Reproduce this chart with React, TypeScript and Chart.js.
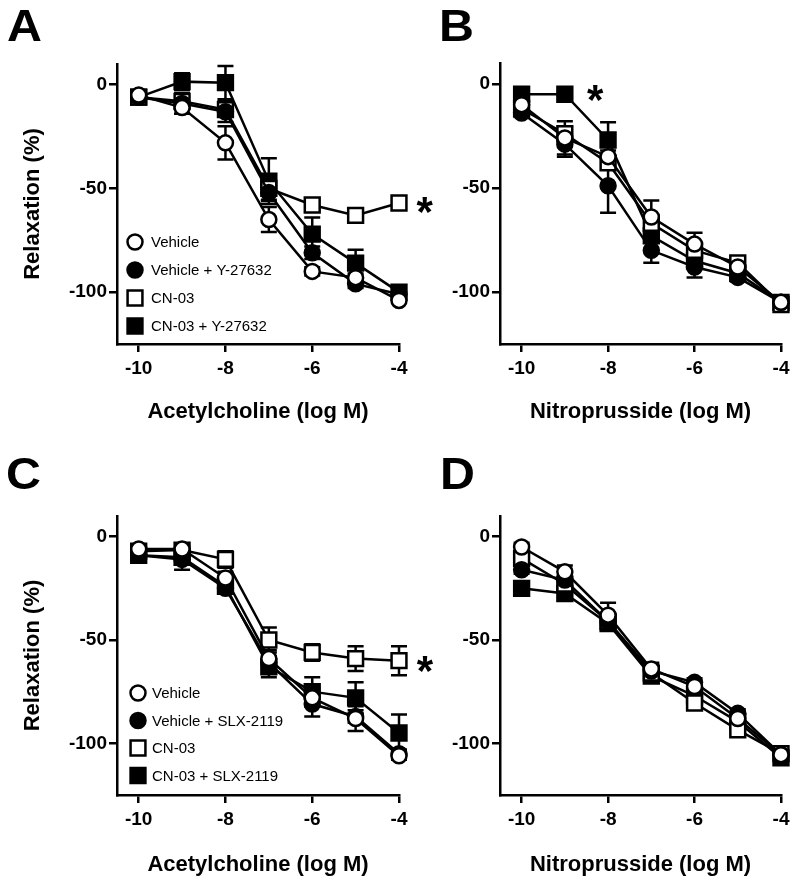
import React, { useEffect, useRef } from "react";
import { Chart, registerables } from "chart.js";

Chart.register(...registerables);

const FONT = "'Liberation Sans', Arial, Helvetica, sans-serif";

// ---------- data ----------
const doses = [-10, -9, -8, -7, -6, -5, -4];
const xTickValues = [-10, -8, -6, -4];
const yTickValues = [0, -50, -100];

const labelsY27632 = ["Vehicle", "Vehicle + Y-27632", "CN-03", "CN-03 + Y-27632"];
const labelsSLX2119 = ["Vehicle", "Vehicle + SLX-2119", "CN-03", "CN-03 + SLX-2119"];

// Panel A – Acetylcholine, Y-27632
const aVehicle = [-5, -11, -28, -65, -90, -93, -104];
const aVehicleY = [-6, -9, -13, -52, -81, -96, -101];
const aCN03 = [-6, -8, -12, -50, -58, -63, -57];
const aCN03Y = [-6, 1.5, 1, -46.5, -72, -86, -100];
const aVehicleErr = [1, 3, 8, 6, 2, 2, 1];
const aVehicleYErr = [1, 5, 5, 4, 3, 2, 1];
const aCN03Err = [1, 2, 2, 5.5, 2, 2, 2];
const aCN03YErr = [1, 4, 8, 11, 8, 6.5, 1];

// Panel B – Nitroprusside, Y-27632
const bVehicle = [-10, -26, -35, -64, -77, -88, -105];
const bVehicleY = [-14, -29, -49, -80, -88, -93, -105];
const bCN03 = [-12, -24, -38, -67, -80, -86, -106];
const bCN03Y = [-5, -5, -27, -73, -85, -91, -105];
const bVehicleErr = [2, 8, 3, 8, 5.5, 2, 1];
const bVehicleYErr = [2, 6, 13, 6, 5, 2, 1];
const bCN03Err = [2, 3, 3, 3, 3, 3, 2];
const bCN03YErr = [2, 1, 8.5, 3, 3, 2, 2];

// Panel C – Acetylcholine, SLX-2119
const cVehicle = [-6, -6, -20, -59, -78, -88, -106];
const cVehicleS = [-9, -11, -25, -61, -81, -87, -105];
const cCN03 = [-7, -6.5, -11, -50, -56, -59, -60];
const cCN03S = [-9, -10, -24, -63, -75, -78, -95];
const cVehicleErr = [1, 2, 3, 4, 4, 6, 2];
const cVehicleSErr = [1, 5, 2, 3, 6, 3, 2];
const cCN03Err = [1, 2, 4, 6, 4, 6, 7];
const cCN03SErr = [1, 3, 2, 5, 7, 7.5, 9];

// Panel D – Nitroprusside, SLX-2119
const dVehicle = [-5, -17, -38, -64, -72.5, -88, -105.5];
const dVehicleS = [-16, -21, -41, -65, -70.5, -85.5, -105.5];
const dCN03 = [-10.5, -23, -41, -66, -80.5, -93.5, -105];
const dCN03S = [-25, -27.5, -42, -67.5, -77, -89.5, -107];
const dVehicleErr = [2, 3, 6, 3, 2, 2, 1];
const dVehicleSErr = [2, 2, 3, 3, 2, 2, 1];
const dCN03Err = [2, 2, 3, 3, 2, 2, 1];
const dCN03SErr = [2, 2, 3, 3, 2, 2, 1];

// significance markers (x in log M, y in %)
const starsA = [{ x: -3.41, y: -58 }];
const starsB = [{ x: -8.3, y: -4.6 }];
const starsC = [{ x: -3.4, y: -61.4 }];
const starsD: { x: number; y: number }[] = [];

// ---------- styles ----------
const markerStyles = ["circle", "circle", "rect", "rect"];
const markerFills = ["#ffffff", "#000000", "#ffffff", "#000000"];
const markerRadii = [7.5, 7.5, 10.5, 10.5];

function buildDatasets(labels: string[], values: number[][], errors: number[][]) {
  return labels.map((label, i) => ({
    label,
    data: doses.map((d, j) => ({ x: d, y: values[i][j] })),
    errors: errors[i],
    borderColor: "#000000",
    borderWidth: 2.5,
    pointStyle: markerStyles[i],
    pointRadius: markerRadii[i],
    pointHoverRadius: markerRadii[i],
    pointBorderWidth: 2.5,
    pointBackgroundColor: markerFills[i],
    pointBorderColor: "#000000",
    tension: 0,
    fill: false,
    clip: false,
  }));
}

// ---------- plugins ----------
const errorBarPlugin = {
  id: "errorBars",
  beforeDatasetsDraw(chart: any) {
    const { ctx } = chart;
    const xs = chart.scales.x;
    const ys = chart.scales.y;
    ctx.save();
    ctx.strokeStyle = "#000";
    ctx.lineWidth = 2.5;
    chart.data.datasets.forEach((ds: any) => {
      const errs = ds.errors || [];
      ds.data.forEach((pt: any, i: number) => {
        const e = errs[i];
        if (!e) return;
        const px = xs.getPixelForValue(pt.x);
        const pt1 = ys.getPixelForValue(pt.y + e);
        const pt2 = ys.getPixelForValue(pt.y - e);
        const cap = 8;
        ctx.beginPath();
        ctx.moveTo(px, pt1);
        ctx.lineTo(px, pt2);
        ctx.moveTo(px - cap, pt1);
        ctx.lineTo(px + cap, pt1);
        ctx.moveTo(px - cap, pt2);
        ctx.lineTo(px + cap, pt2);
        ctx.stroke();
      });
    });
    ctx.restore();
  },
};

const starPlugin = {
  id: "stars",
  afterDatasetsDraw(chart: any, _args: any, opts: any) {
    const pts = (opts && opts.points) || [];
    if (!pts.length) return;
    const { ctx } = chart;
    const xs = chart.scales.x;
    const ys = chart.scales.y;
    ctx.save();
    ctx.fillStyle = "#000";
    ctx.font = `bold 42px ${FONT}`;
    ctx.textAlign = "center";
    ctx.textBaseline = "alphabetic";
    const m = ctx.measureText("*");
    const asc = m.actualBoundingBoxAscent;
    const desc = m.actualBoundingBoxDescent;
    pts.forEach((p: any) => {
      const px = xs.getPixelForValue(p.x);
      const py = ys.getPixelForValue(p.y);
      ctx.fillText("*", px, py + (asc - desc) / 2);
    });
    ctx.restore();
  },
};

const insideLegendPlugin = {
  id: "insideLegend",
  afterDraw(chart: any, _args: any, opts: any) {
    if (!opts || !opts.display) return;
    const { ctx, chartArea } = chart;
    ctx.save();
    ctx.font = `15px ${FONT}`;
    ctx.textBaseline = "middle";
    ctx.textAlign = "left";
    chart.data.datasets.forEach((ds: any, i: number) => {
      const y = chartArea.top + opts.top + i * opts.spacing;
      const x = chartArea.left + opts.markerX;
      ctx.lineWidth = 2.5;
      ctx.strokeStyle = "#000";
      ctx.fillStyle = ds.pointBackgroundColor;
      ctx.beginPath();
      if (ds.pointStyle === "rect") {
        const h = ds.pointRadius * Math.SQRT1_2;
        ctx.rect(x - h, y - h, 2 * h, 2 * h);
      } else {
        ctx.arc(x, y, ds.pointRadius, 0, Math.PI * 2);
      }
      ctx.fill();
      ctx.stroke();
      ctx.fillStyle = "#000";
      ctx.fillText(ds.label, chartArea.left + opts.textX, y + 1);
    });
    ctx.restore();
  },
};

// ---------- panels ----------
type PanelCfg = {
  left: number; top: number; w: number; h: number;
  L: number; T: number; R: number; B: number;
  xTitle: string; yTitle: string | null;
  xTitlePad: number;
  labels: string[]; values: number[][]; errors: number[][];
  stars: { x: number; y: number }[];
  legend: any;
};

const panels: PanelCfg[] = [
  {
    left: 0, top: 0, w: 445, h: 443, L: 117, T: 64, R: 399, B: 344,
    xTitle: "Acetylcholine (log M)", yTitle: "Relaxation (%)", xTitlePad: 18,
    labels: labelsY27632,
    values: [aVehicle, aVehicleY, aCN03, aCN03Y],
    errors: [aVehicleErr, aVehicleYErr, aCN03Err, aCN03YErr],
    stars: starsA,
    legend: { display: true, markerX: 18, textX: 34, top: 178, spacing: 28 },
  },
  {
    left: 440, top: 0, w: 360, h: 443, L: 500, T: 63, R: 781, B: 344,
    xTitle: "Nitroprusside (log M)", yTitle: null, xTitlePad: 18,
    labels: labelsY27632,
    values: [bVehicle, bVehicleY, bCN03, bCN03Y],
    errors: [bVehicleErr, bVehicleYErr, bCN03Err, bCN03YErr],
    stars: starsB,
    legend: { display: false },
  },
  {
    left: 0, top: 443, w: 445, h: 443, L: 117, T: 516, R: 399, B: 795,
    xTitle: "Acetylcholine (log M)", yTitle: "Relaxation (%)", xTitlePad: 8,
    labels: labelsSLX2119,
    values: [cVehicle, cVehicleS, cCN03, cCN03S],
    errors: [cVehicleErr, cVehicleSErr, cCN03Err, cCN03SErr],
    stars: starsC,
    legend: { display: true, markerX: 21, textX: 35, top: 177, spacing: 27.5 },
  },
  {
    left: 440, top: 443, w: 360, h: 443, L: 500, T: 516, R: 781, B: 795,
    xTitle: "Nitroprusside (log M)", yTitle: null, xTitlePad: 8,
    labels: labelsSLX2119,
    values: [dVehicle, dVehicleS, dCN03, dCN03S],
    errors: [dVehicleErr, dVehicleSErr, dCN03Err, dCN03SErr],
    stars: starsD,
    legend: { display: false },
  },
];

function Panel({ cfg }: { cfg: PanelCfg }) {
  const ref = useRef<HTMLCanvasElement>(null);
  useEffect(() => {
    if (!ref.current) return;
    const yWidth = cfg.L - cfg.left;
    const xHeight = cfg.top + cfg.h - cfg.B;
    const chart = new Chart(ref.current, {
      type: "line",
      data: { datasets: buildDatasets(cfg.labels, cfg.values, cfg.errors) as any },
      options: {
        responsive: false,
        maintainAspectRatio: false,
        animation: false,
        events: [],
        layout: {
          padding: { left: 0, top: cfg.T - cfg.top, right: cfg.left + cfg.w - cfg.R, bottom: 0 },
        },
        plugins: {
          legend: { display: false },
          tooltip: { enabled: false },
          stars: { points: cfg.stars },
          insideLegend: cfg.legend,
        } as any,
        scales: {
          x: {
            type: "linear",
            min: -10.5,
            max: -4,
            afterBuildTicks: (s: any) => {
              s.ticks = xTickValues.map((v) => ({ value: v }));
            },
            afterFit: (s: any) => {
              s.height = xHeight;
            },
            grid: {
              display: true,
              drawOnChartArea: false,
              drawTicks: true,
              tickLength: 8,
              tickWidth: 2.5,
              tickColor: "#000",
              color: "#000",
              lineWidth: 2.5,
            },
            border: { display: true, color: "#000", width: 2.5 },
            ticks: {
              color: "#000",
              padding: 5,
              maxRotation: 0,
              autoSkip: false,
              font: { family: FONT, size: 19, weight: "bold" },
              callback: (v: any) => String(v),
            },
            title: {
              display: true,
              text: cfg.xTitle,
              color: "#000",
              font: { family: FONT, size: 22, weight: "bold" },
              padding: { top: 0, bottom: cfg.xTitlePad },
            },
          },
          y: {
            type: "linear",
            min: -125,
            max: 10,
            afterBuildTicks: (s: any) => {
              s.ticks = yTickValues.map((v) => ({ value: v }));
            },
            afterFit: (s: any) => {
              s.width = yWidth;
            },
            grid: {
              display: true,
              drawOnChartArea: false,
              drawTicks: true,
              tickLength: 8,
              tickWidth: 2.5,
              tickColor: "#000",
              color: "#000",
              lineWidth: 2.5,
            },
            border: { display: true, color: "#000", width: 2.5 },
            ticks: {
              color: "#000",
              padding: 2,
              autoSkip: false,
              font: { family: FONT, size: 19, weight: "bold" },
              callback: (v: any) => String(v),
            },
            title: {
              display: !!cfg.yTitle,
              text: cfg.yTitle || "",
              color: "#000",
              font: { family: FONT, size: 22, weight: "bold" },
              padding: { top: 20, bottom: 0 },
            },
          },
        },
      } as any,
      plugins: [errorBarPlugin, starPlugin, insideLegendPlugin],
    });
    return () => chart.destroy();
  }, []);
  return (
    <canvas
      ref={ref}
      width={cfg.w}
      height={cfg.h}
      style={{ position: "absolute", left: cfg.left, top: cfg.top, width: cfg.w, height: cfg.h }}
    />
  );
}

const panelLetters = [
  { text: "A", left: 7, top: 4 },
  { text: "B", left: 439, top: 4 },
  { text: "C", left: 6, top: 452 },
  { text: "D", left: 440, top: 452 },
];

export default function App() {
  return (
    <div
      style={{
        position: "absolute",
        left: 0,
        top: 0,
        width: 800,
        height: 886,
        background: "#ffffff",
        overflow: "hidden",
      }}
    >
      {panels.map((p, i) => (
        <Panel key={i} cfg={p} />
      ))}
      {panelLetters.map((l) => (
        <div
          key={l.text}
          style={{
            position: "absolute",
            left: l.left,
            top: l.top,
            fontFamily: FONT,
            fontWeight: "bold",
            fontSize: 44,
            lineHeight: "44px",
            color: "#000",
            transform: "scaleX(1.1)",
            transformOrigin: "left top",
          }}
        >
          {l.text}
        </div>
      ))}
    </div>
  );
}
